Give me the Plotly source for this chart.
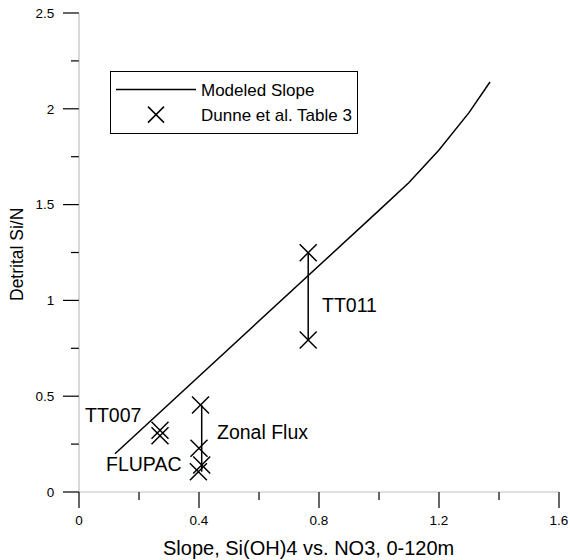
import plotly.graph_objects as go

# Modeled slope curve
curve_x = [0.12, 0.2, 0.3, 0.4, 0.5, 0.6, 0.7, 0.8, 0.9, 1.0, 1.1, 1.2, 1.3, 1.37]
curve_y = [0.20, 0.315, 0.46, 0.605, 0.75, 0.895, 1.035, 1.18, 1.325, 1.47, 1.615, 1.785, 1.98, 2.14]

# Dunne et al. Table 3 observations
tt007_x = [0.27, 0.27]
tt007_y = [0.322, 0.294]
zonal_x = [0.405, 0.40, 0.409, 0.398]
zonal_y = [0.454, 0.228, 0.141, 0.106]
tt011_x = [0.764, 0.764]
tt011_y = [1.249, 0.793]

x_ticks = [0, 0.4, 0.8, 1.2, 1.6]
x_ticklabels = ["0", "0.4", "0.8", "1.2", "1.6"]
x_minor = [0.2, 0.6, 1.0, 1.4]
y_ticks = [0, 0.5, 1, 1.5, 2, 2.5]
y_ticklabels = ["0", "0.5", "1", "1.5", "2", "2.5"]
y_minor = [0.25, 0.75, 1.25, 1.75, 2.25]

FONT = "Liberation Sans, Arial, sans-serif"

# frame geometry (pixels): axes cross at the origin, ticks point outward
W, H = 570, 560
X0_PX, X1_PX = 79, 559      # x = 0 .. 1.6
Y0_PX, Y1_PX = 492, 13      # y = 0 .. 2.5
MAJ, MIN = 16, 8
PAD = 2
xmin, xmax = x_ticks[0], x_ticks[-1]
ymin, ymax = y_ticks[0], y_ticks[-1]
xs = (X1_PX - X0_PX) / (xmax - xmin)
ys = (Y0_PX - Y1_PX) / (ymax - ymin)
x_range = [xmin - (MAJ + PAD) / xs, xmax + PAD / xs]
y_range = [ymin - (MAJ + PAD) / ys, ymax + PAD / ys]
m_l = X0_PX - MAJ - PAD
m_r = W - (X1_PX + PAD)
m_t = Y1_PX - PAD
m_b = H - (Y0_PX + MAJ + PAD)
plot_h = H - m_t - m_b
plot_w = W - m_l - m_r

fig = go.Figure()

fig.add_trace(go.Scatter(
    x=curve_x, y=curve_y, mode="lines", name="Modeled Slope",
    line=dict(color="black", width=1.5),
))

# vertical connectors (not in legend)
fig.add_trace(go.Scatter(
    x=[max(zonal_x), max(zonal_x)], y=[max(zonal_y), min(zonal_y)],
    mode="lines", line=dict(color="black", width=1.5), showlegend=False, hoverinfo="skip",
))
fig.add_trace(go.Scatter(
    x=[tt011_x[0], tt011_x[0]], y=[max(tt011_y), min(tt011_y)],
    mode="lines", line=dict(color="black", width=1.5), showlegend=False, hoverinfo="skip",
))

obs_x = tt007_x + zonal_x + tt011_x
obs_y = tt007_y + zonal_y + tt011_y
fig.add_trace(go.Scatter(
    x=obs_x, y=obs_y, mode="markers", name="Dunne et al. Table 3",
    marker=dict(symbol="x-thin", size=17, color="black",
                line=dict(color="black", width=1.5)),
))

# tick marks as line traces (separate segments, None-separated)
tx, ty = [], []
for v in x_ticks + x_minor:
    L = MAJ if v in x_ticks else MIN
    tx += [v, v, None]
    ty += [ymin, ymin - L / ys, None]
for v in y_ticks + y_minor:
    L = MAJ if v in y_ticks else MIN
    tx += [xmin, xmin - L / xs, None]
    ty += [v, v, None]
fig.add_trace(go.Scatter(
    x=tx, y=ty, mode="lines", line=dict(color="black", width=1.2),
    showlegend=False, hoverinfo="skip", connectgaps=False, cliponaxis=False,
))

ann_font = dict(family=FONT, size=19.5, color="black")
annotations = [
    dict(x=0.803, y=0.976, text="TT011", xanchor="left", yanchor="middle"),
    dict(x=0.453, y=0.315, text="Zonal Flux", xanchor="left", yanchor="middle"),
    dict(x=0.214, y=0.40, text="TT007", xanchor="right", yanchor="middle"),
    dict(x=0.351, y=0.145, text="FLUPAC", xanchor="right", yanchor="middle"),
]
for a in annotations:
    a.update(xref="x", yref="y", showarrow=False, font=ann_font)
annotations.append(dict(
    x=(308 - m_l) / plot_w, y=0, xref="paper", yref="paper", yshift=-(548 - (H - m_b)),
    xanchor="center", yanchor="middle", showarrow=False,
    text="Slope, Si(OH)4 vs. NO3, 0-120m",
    font=dict(family=FONT, size=20, color="black"),
))
annotations.append(dict(
    x=0, y=(H - m_b - 255) / plot_h, xref="paper", yref="paper", xshift=-(m_l - 17),
    xanchor="center", yanchor="middle", textangle=-90, showarrow=False,
    text="Detrital Si/N",
    font=dict(family=FONT, size=17.5, color="black"),
))

# axis lines
shapes = [
    dict(type="line", xref="x", yref="y", x0=xmin, x1=xmin, y0=ymin, y1=ymax,
         line=dict(color="#808080", width=2)),
    dict(type="line", xref="x", yref="y", x0=xmin, x1=xmax, y0=ymin, y1=ymin,
         line=dict(color="#333333", width=1)),
]

fig.update_layout(
    template="simple_white",
    width=W, height=H,
    margin=dict(l=m_l, r=m_r, t=m_t, b=m_b),
    paper_bgcolor="white", plot_bgcolor="white",
    font=dict(family=FONT, color="black"),
    showlegend=True,
    legend=dict(
        x=(110 - m_l) / plot_w, y=(H - m_b - 71) / plot_h, xanchor="left", yanchor="top",
        bgcolor="white", bordercolor="black", borderwidth=1,
        font=dict(family=FONT, size=17, color="black"),
        itemwidth=80, tracegroupgap=0,
    ),
    annotations=annotations,
    shapes=shapes,
    xaxis=dict(
        range=x_range, showgrid=False, zeroline=False, automargin=False,
        showline=False, ticks="",
        tickmode="array", tickvals=x_ticks, ticktext=x_ticklabels,
        tickfont=dict(family=FONT, size=13.5, color="black"),
    ),
    yaxis=dict(
        range=y_range, showgrid=False, zeroline=False, automargin=False,
        showline=False, ticks="outside", ticklen=3, tickcolor="rgba(0,0,0,0)",
        tickmode="array", tickvals=y_ticks, ticktext=y_ticklabels,
        tickfont=dict(family=FONT, size=13.5, color="black"),
    ),
)

fig.write_html(
    "out.html",
    config={"displayModeBar": False},
    post_script="document.body.style.margin='0';document.body.style.overflow='hidden';",
)
